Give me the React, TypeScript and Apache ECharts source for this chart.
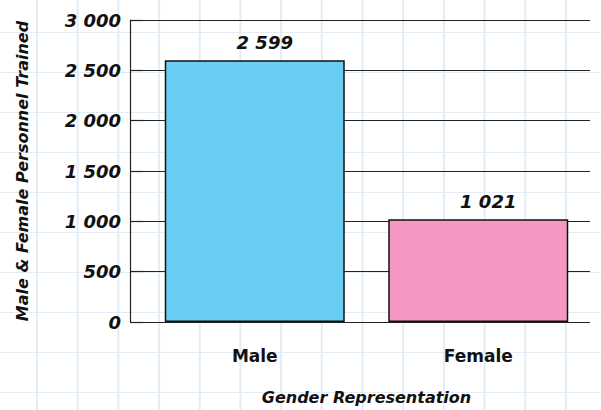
import React, { useEffect, useRef } from "react";
import * as echarts from "echarts";

const categories = ["Male", "Female"];
const trainedValues = [2599, 1021];
const barColors = ["#69CDF4", "#F497C2"];
const yTickValues = [0, 500, 1000, 1500, 2000, 2500, 3000];

const FONT = "'DejaVu Sans', 'Liberation Sans', sans-serif";

function fmt(v: number): string {
  const s = String(Math.round(v));
  if (s.length <= 3) return s;
  return s.slice(0, s.length - 3) + " " + s.slice(s.length - 3);
}

export default function App() {
  const ref = useRef<HTMLDivElement>(null);
  useEffect(() => {
    if (!ref.current) return;
    const chart = echarts.init(ref.current, undefined, { renderer: "svg" });
    chart.setOption({
      animation: false,
      backgroundColor: "transparent",
      grid: { left: 143, right: 11, top: 20, bottom: 88 },
      xAxis: {
        type: "category",
        data: categories,
        axisLine: { show: false },
        axisTick: { show: false },
        axisLabel: {
          color: "#111",
          fontFamily: FONT,
          fontWeight: "bold",
          fontSize: 17,
          margin: 25,
        },
        name: "Gender Representation",
        nameLocation: "middle",
        nameGap: 67,
        nameTextStyle: {
          color: "#111",
          fontFamily: FONT,
          fontWeight: "bold",
          fontStyle: "italic",
          fontSize: 16,
        },
      },
      yAxis: {
        type: "value",
        min: yTickValues[0],
        max: yTickValues[yTickValues.length - 1],
        interval: 500,
        offset: 13,
        axisLine: { show: true, lineStyle: { color: "#222", width: 1.2 } },
        axisTick: { show: true, inside: true, length: 13, lineStyle: { color: "#222", width: 1.2 } },
        splitLine: { show: true, lineStyle: { color: "#222", width: 1.2 } },
        axisLabel: {
          color: "#111",
          fontFamily: FONT,
          fontWeight: "bold",
          fontStyle: "italic",
          fontSize: 18,
          margin: 9,
          formatter: (v: number) => fmt(v),
        },
        name: "Male & Female Personnel Trained",
        nameLocation: "middle",
        nameGap: 100,
        nameTextStyle: {
          color: "#111",
          fontFamily: FONT,
          fontWeight: "bold",
          fontStyle: "italic",
          fontSize: 16,
        },
      },
      series: [
        {
          type: "bar",
          barWidth: 180,
          data: trainedValues.map((v, i) => ({
            value: v,
            itemStyle: { color: barColors[i], borderColor: "#111", borderWidth: 1.5 },
          })),
          label: {
            show: true,
            position: "top",
            distance: 9,
            offset: [10, 0],
            color: "#111",
            fontFamily: FONT,
            fontWeight: "bold",
            fontStyle: "italic",
            fontSize: 18,
            formatter: (p: any) => fmt(p.value),
          },
        },
      ],
    });
    return () => chart.dispose();
  }, []);

  const bg = {
    position: "fixed" as const,
    left: 0,
    top: 0,
    width: 601,
    height: 410,
    backgroundColor: "#ffffff",
    backgroundImage:
      "linear-gradient(to right, #e3ecf5 1.5px, transparent 1.5px), linear-gradient(to bottom, #e3ecf5 1.5px, transparent 1.5px)",
    backgroundSize: "40.7px 40px",
    backgroundPosition: "36px 32px",
  };

  return (
    <div style={bg}>
      <div ref={ref} style={{ width: 601, height: 410 }} />
    </div>
  );
}
